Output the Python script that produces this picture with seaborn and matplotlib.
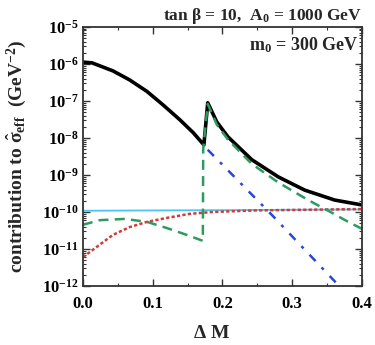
import numpy as np
import pandas as pd
import matplotlib
matplotlib.use("Agg")
import matplotlib.pyplot as plt
import matplotlib.ticker as mticker
import seaborn as sns

# values
x_total = [0.0, 0.013, 0.043, 0.067, 0.092, 0.115, 0.139, 0.158, 0.1735, 0.179, 0.192,
           0.208, 0.242, 0.280, 0.318, 0.361, 0.4]
y_total = [1.12e-6, 1.07e-6, 6.5e-7, 3.7e-7, 1.8e-7, 7.8e-8, 3.1e-8, 1.4e-8, 6.5e-9, 8.9e-8, 2.7e-8,
           1.07e-8, 2.6e-9, 8.9e-10, 3.9e-10, 2.1e-10, 1.55e-10]

x_green = [0.0, 0.024, 0.06, 0.092, 0.12, 0.149, 0.172, 0.1725, 0.179, 0.192, 0.208,
           0.242, 0.280, 0.323, 0.355, 0.376, 0.4]
y_green = [4.5e-11, 6.0e-11, 6.5e-11, 5.4e-11, 3.7e-11, 2.4e-11, 1.66e-11, 5.0e-9, 8.3e-8, 2.3e-8, 9.0e-9,
           2.0e-9, 6.3e-10, 2.1e-10, 1.0e-10, 6.0e-11, 3.5e-11]

x_blue = [0.179, 0.271, 0.369, 0.4]
y_blue = [4.8e-9, 8.3e-11, 9.3e-13, 2.3e-13]

x_cyan = [0.0, 0.2, 0.4]
y_cyan = [1.08e-10, 1.12e-10, 1.17e-10]

x_red = [0.0, 0.024, 0.043, 0.067, 0.092, 0.12, 0.153, 0.186, 0.246, 0.4]
y_red = [6.0e-12, 1.3e-11, 2.4e-11, 3.9e-11, 5.4e-11, 6.9e-11, 8.9e-11, 1.0e-10, 1.1e-10, 1.2e-10]

decades = [-12, -11, -10, -9, -8, -7, -6, -5]
x_ticks = [0.0, 0.1, 0.2, 0.3, 0.4]

sns.set_style("ticks")
plt.rcParams.update({
    "font.family": ["Liberation Serif", "DejaVu Serif"],
    "font.weight": "bold",
    "mathtext.fontset": "custom",
    "mathtext.rm": "Liberation Serif:bold",
    "mathtext.bf": "Liberation Serif:bold",
    "mathtext.it": "Liberation Serif:bold",
    "mathtext.default": "bf",
    "axes.edgecolor": "#333333",
})

fig = plt.figure(figsize=(3.75, 3.45), dpi=100)
ax = fig.add_axes([0.221, 0.171, 0.744, 0.751])

# cyan and red first so the others sit on top
sns.lineplot(x=x_cyan, y=y_cyan, ax=ax, color="#4cc4f0", linewidth=1.3, sort=False, estimator=None)
sns.lineplot(x=x_red, y=y_red, ax=ax, color="#d43a3a", linewidth=1.8,
             linestyle=(0, (1.3, 0.9)), sort=False, estimator=None)
sns.lineplot(x=x_blue, y=y_blue, ax=ax, color="#2a46d6", linewidth=1.8,
             linestyle=(0, (3.5, 3.5, 1.2, 3.5)), sort=False, estimator=None)
sns.lineplot(x=x_total, y=y_total, ax=ax, color="black", linewidth=2.6, sort=False, estimator=None)
sns.lineplot(x=x_green, y=y_green, ax=ax, color="#2f9a5e", linewidth=1.8,
             linestyle=(0, (4, 2.5)), sort=False, estimator=None)

ax.set_yscale("log")
ax.set_xlim(0, 0.4)
ax.set_ylim(1e-12, 1e-5)

ax.set_yticks([10.0 ** d for d in decades])
ax.set_yticklabels([r"$10^{%d}$" % d for d in decades])
ax.yaxis.set_minor_locator(mticker.LogLocator(base=10, subs=np.arange(2, 10), numticks=20))
ax.yaxis.set_minor_formatter(mticker.NullFormatter())
ax.set_xticks(x_ticks)
ax.set_xticklabels(["%.1f" % v for v in x_ticks])
ax.xaxis.set_minor_locator(mticker.MultipleLocator(0.05))

ax.tick_params(which="both", direction="in", top=True, right=True, colors="#333333",
               labelcolor="black", labelsize=12)
ax.tick_params(which="major", length=5, width=1.0)
ax.tick_params(which="minor", length=2.5, width=0.8)
ax.tick_params(axis="x", pad=7)
ax.tick_params(axis="y", pad=3)
for s in ax.spines.values():
    s.set_linewidth(1.3)

ax.set_xlabel(r"$\Delta$ M", fontsize=14, fontweight="bold")
ax.xaxis.set_label_coords(0.46, -0.15)
ax.set_ylabel(r"contribution to $\hat{\sigma}_{eff}$  (GeV$^{-2}$)", fontsize=14, fontweight="bold")
ax.yaxis.set_label_coords(-0.195, 0.5)

ax.text(1.0, 1.027, r"tan β = 10,  A$_0$ = 1000 GeV", transform=ax.transAxes,
        ha="right", va="baseline", fontsize=12.5, fontweight="bold")
ax.text(0.986, 0.911, r"m$_0$ = 300 GeV", transform=ax.transAxes,
        ha="right", va="baseline", fontsize=13, fontweight="bold")

fig.savefig("out.png", dpi=100)
